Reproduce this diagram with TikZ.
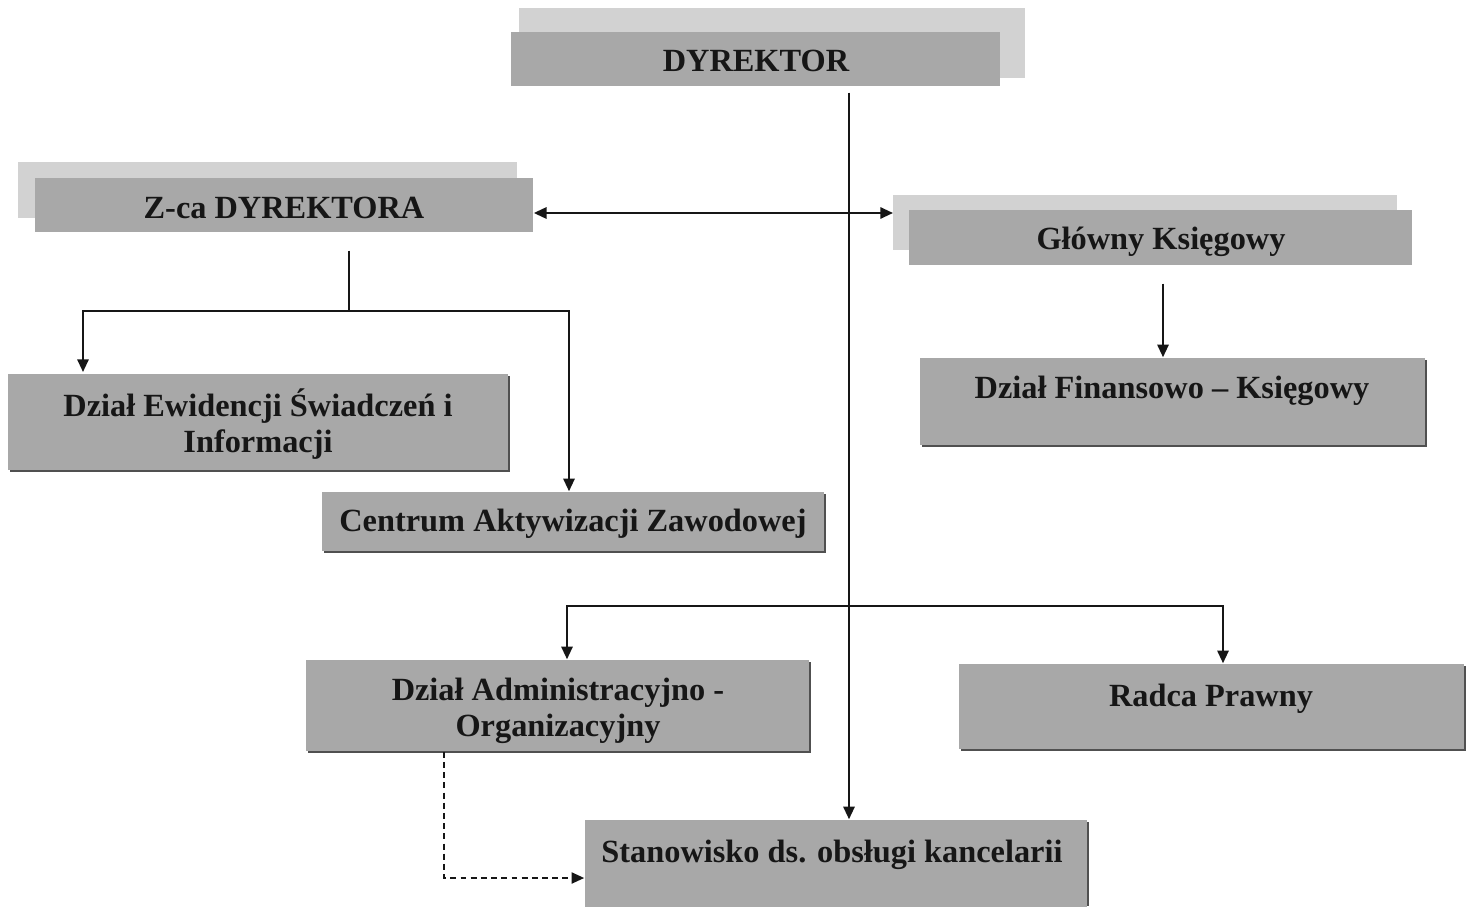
\documentclass[tikz,border=0pt]{standalone}
\usepackage{fontspec}
\setmainfont{Liberation Serif}
\usetikzlibrary{arrows.meta}
\definecolor{boxgray}{RGB}{168,168,168}
\definecolor{shadelight}{RGB}{210,210,210}
\definecolor{edgedark}{RGB}{80,80,80}
\definecolor{ink}{RGB}{22,22,22}
\begin{document}
\begin{tikzpicture}[x=0.01cm,y=-0.01cm,
  box/.style={rectangle, fill=boxgray, draw=none, inner sep=0pt},
  lightshadow/.style={fill=shadelight, draw=none},
  darkedge/.style={fill=edgedark, draw=none},
  label/.style={font=\bfseries\fontsize{9.2}{10.1}\selectfont, text=ink, align=center, inner sep=0pt},
  conn/.style={line width=0.6pt, draw=ink},
  arr/.style={conn, -{Triangle[length=3.6pt,width=3.2pt]}},
  dualarr/.style={conn, {Triangle[length=3.6pt,width=3.2pt]}-{Triangle[length=3.6pt,width=3.2pt]}},
  dasharr/.style={line width=0.45pt, draw=ink, dash pattern=on 1.7pt off 1.2pt, -{Triangle[length=3.6pt,width=3.2pt]}}
]
\useasboundingbox (0,0) rectangle (1473,906);
\fill[white] (0,0) rectangle (1473,906);

% light shadows of the three upper boxes
\fill[lightshadow] (519,8) rectangle (1025,78);
\fill[lightshadow] (18,162) rectangle (517,218);
\fill[lightshadow] (893,195) rectangle (1397,250);

% dark edges of the lower boxes
\fill[darkedge] (10,376) rectangle (510,472);
\fill[darkedge] (324,494) rectangle (826,553);
\fill[darkedge] (922,360) rectangle (1427,447);
\fill[darkedge] (308,662) rectangle (811,753);
\fill[darkedge] (961,666) rectangle (1466,751);
\fill[darkedge] (587,822) rectangle (1089,906);

% boxes
\node[box, minimum width=4.89cm, minimum height=0.54cm] (dyr) at (755.5,59) {};
\node[box, minimum width=4.98cm, minimum height=0.54cm] (zca) at (284,205) {};
\node[box, minimum width=5.03cm, minimum height=0.55cm] (glo) at (1160.5,237.5) {};
\node[box, minimum width=5.00cm, minimum height=0.96cm] (ewi) at (258,422) {};
\node[box, minimum width=5.02cm, minimum height=0.59cm] (cen) at (573,521.5) {};
\node[box, minimum width=5.05cm, minimum height=0.87cm] (fin) at (1172.5,401.5) {};
\node[box, minimum width=5.03cm, minimum height=0.91cm] (adm) at (557.5,705.5) {};
\node[box, minimum width=5.05cm, minimum height=0.85cm] (rad) at (1211.5,706.5) {};
\node[box, minimum width=5.02cm, minimum height=0.88cm] (sta) at (836,864) {};

% texts
\node[label] (tdyr) at (756,61) {DYREKTOR};
\node[label] (tzca) at (284,208) {Z-ca DYREKTORA};
\node[label] (tglo) at (1161,242) {Główny Księgowy};
\node[label] (tewi) at (258,424) {Dział Ewidencji Świadczeń i\\Informacji};
\node[label] (tcen) at (573,524) {Centrum Aktywizacji Zawodowej};
\node[label] (tfin) at (1172,391) {Dział Finansowo – Księgowy};
\node[label] (tadm) at (558,711) {Dział Administracyjno -\\Organizacyjny};
\node[label] (trad) at (1211,699) {Radca Prawny};
\node[label] (tsta) at (832,855) {Stanowisko ds. obsługi kancelarii};

% junction coordinates
\coordinate (vx) at (849,0);
\coordinate (zj) at (349,311);
\coordinate (bj) at (849,606);

% DYREKTOR trunk to Stanowisko
\draw[arr] (dyr.south -| vx) ++(0,6) -- (vx |- sta.north);
% Z-ca <-> Główny
\draw[dualarr] (zca.east |- 0,213) -- (893,213);
% Z-ca subtree
\draw[conn] (zca.south -| zj) ++(0,18) -- (zj);
\draw[arr] (zj) -- (83,311) -- (83,372);
\draw[arr] (zj) -- (569,311) -- (569 ,0 |- cen.north);
% Główny -> Finansowo
\draw[arr] (glo.south -| 1163,0) ++(0,18) -- (1163,0 |- fin.north);
% lower branch
\draw[arr] (bj) -- (567,606) -- (567,0 |- adm.north);
\draw[arr] (bj) -- (1223,606) -- (1223,0 |- rad.north);
% dashed link
\draw[dasharr] (adm.south -| 444,0) -- (444,878) -- (sta.west |- 0,878);
\end{tikzpicture}
\end{document}
